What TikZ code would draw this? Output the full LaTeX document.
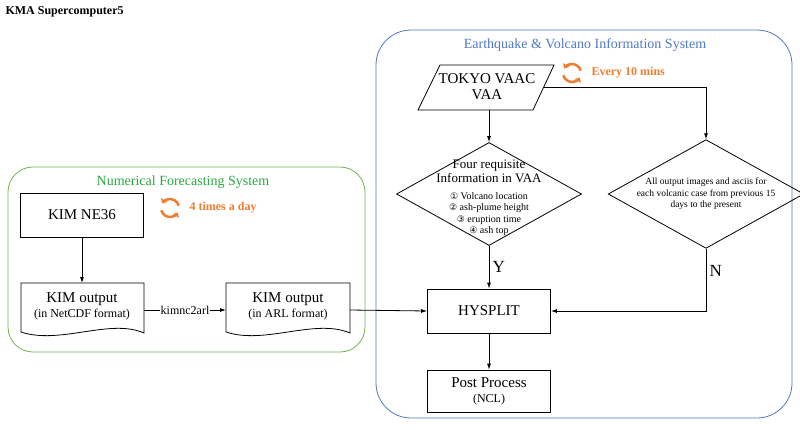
\documentclass[tikz,border=0pt]{standalone}
\usepackage{fontspec}
\setmainfont{Liberation Serif}
\newfontfamily\dvs{DejaVu Sans}
\usetikzlibrary{shapes.geometric,arrows.meta,calc}
\definecolor{gr}{RGB}{112,180,80}
\definecolor{grt}{RGB}{40,170,60}
\definecolor{bl}{RGB}{80,120,200}
\definecolor{org}{RGB}{237,125,49}
\tikzset{
 box/.style={draw,thick,minimum width=123pt,minimum height=44pt,align=center,font=\fontsize{15}{17}\selectfont},
 arr/.style={-{Latex[length=6pt,width=4pt]},thick},
 dia/.style={draw,thick,diamond,aspect=1.8,inner sep=0pt,align=center},
 orgt/.style={text=org,font=\bfseries\fontsize{12}{14}\selectfont},
 cy/.style={org,line width=2.5pt,-{Triangle[length=4pt,width=7pt]}}
}
\newcommand{\cyc}[1]{\begin{scope}[shift={(#1)},x=1pt,y=1pt]
 \draw[cy] (15:9) arc (15:150:9);
 \draw[cy] (195:9) arc (195:330:9);
\end{scope}}
\begin{document}
\begin{tikzpicture}[x=1pt,y=-1pt]
\useasboundingbox (0,0) rectangle (800,429);
\node[anchor=west,font=\bfseries\fontsize{12}{14}\selectfont] (t) at (2,12) {KMA Supercomputer5};
% green
\draw[gr,thick,rounded corners=25] (8,167) rectangle (365,352);
\node[text=grt,font=\fontsize{14}{16}\selectfont] (gt) at (183,182) {Numerical Forecasting System};
\node[box] (ne) at (82,215) {KIM NE36};
\coordinate (c1) at (170,208); \cyc{c1}
\node[orgt,anchor=west] (f1) at (186,208) {4 times a day};
\draw[thick] (21,283) -- (144,283) -- (144,333) .. controls (110,318) and (60,345) .. (21,332) -- cycle;
\node[align=center,font=\fontsize{15}{17}\selectfont] (o1) at (82,306) {KIM output\\[-2pt]{\fontsize{12}{14}\selectfont (in NetCDF format)}};
\draw[thick] (226,283) -- (350,283) -- (350,333) .. controls (315,318) and (265,345) .. (226,332) -- cycle;
\node[align=center,font=\fontsize{15}{17}\selectfont] (o2) at (288,306) {KIM output\\[-2pt]{\fontsize{12}{14}\selectfont (in ARL format)}};
\coordinate (o1t) at (82,283); \coordinate (o1r) at (144,310); \coordinate (o2l) at (226,310); \coordinate (o2r) at (350,310);
\draw[arr] (ne) -- (o1t);
\draw[arr] (o1r) -- node[fill=white,inner sep=1pt,font=\fontsize{12}{14}\selectfont]{kimnc2arl} (o2l);
% blue
\draw[bl,thick,rounded corners=35] (376,30) rectangle (792,418);
\node[text=bl,font=\fontsize{14}{16}\selectfont] (bt) at (585,45) {Earthquake \& Volcano Information System};
\draw[thick] (440,65) -- (554,65) -- (533,110) -- (418,110) -- cycle;
\node[align=center,font=\fontsize{15}{16}\selectfont] (p) at (487,87) {TOKYO VAAC\\VAA};
\coordinate (pr) at (543,87); \coordinate (pb) at (489,110);
\coordinate (c2) at (572,73); \cyc{c2}
\node[orgt,anchor=west] (f2) at (588,73) {Every 10 mins};
\node[dia,minimum width=185pt,minimum height=103pt] (d1) at (489,194) {};
\node[align=center,font=\fontsize{13}{14}\selectfont] (d1t) at (489,171) {Four requisite\\Information in VAA};
\node[align=center,font=\fontsize{10}{11.5}\selectfont] (d1s) at (489,214) {{\dvs\fontsize{9}{11}\selectfont ①} Volcano location\\{\dvs\fontsize{9}{11}\selectfont ②} ash-plume height\\{\dvs\fontsize{9}{11}\selectfont ③} eruption time\\{\dvs\fontsize{9}{11}\selectfont ④} ash top};
\node[dia,minimum width=185pt,minimum height=103pt,font=\fontsize{9.5}{11.5}\selectfont] (d2) at (706,194) {All output images and asciis for\\each volcanic case from previous 15\\days to the present};
\node[box] (h) at (489,311) {HYSPLIT};
\node[box,minimum height=42pt] (pp) at (489,391) {Post Process\\[-2pt]{\fontsize{12}{14}\selectfont (NCL)}};
\draw[arr] (pb) -- (d1.north);
\draw[arr] (pr) -- (706,87) -- (d2.north);
\draw[arr] (d1.south) -- node[right,font=\fontsize{17}{18}\selectfont]{Y} (h.north);
\draw[arr] (d2.south) -- node[right,pos=0.35,font=\fontsize{17}{18}\selectfont]{N} (706,311) -- (h.east);
\draw[arr] (o2r) -- (h.west);
\draw[arr] (h) -- (pp);
\end{tikzpicture}
\end{document}
